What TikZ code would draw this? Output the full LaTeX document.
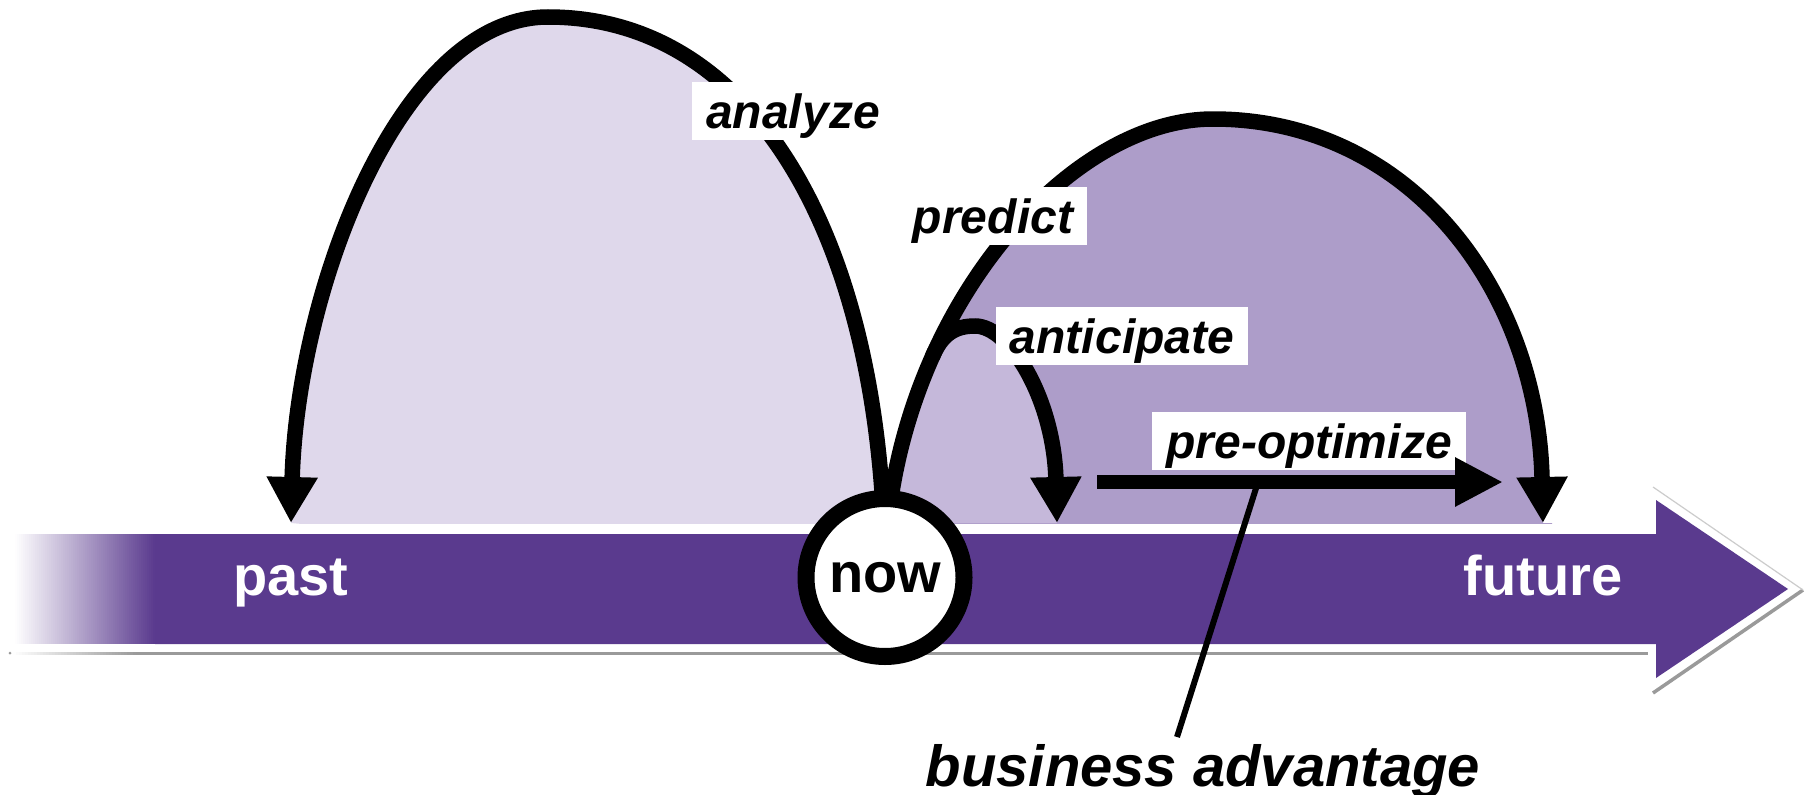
\documentclass[tikz,border=0pt]{standalone}
\usepackage{fontspec}
\setmainfont{Liberation Sans}
\usetikzlibrary{arrows.meta}
\definecolor{bandpurple}{HTML}{5A3A8E}
\definecolor{lavlight}{HTML}{DFD8EB}
\definecolor{lavmid}{HTML}{C5B8DA}
\definecolor{lavdark}{HTML}{AD9DC9}
\definecolor{shadowgray}{HTML}{9A9A9A}
\begin{document}
\begin{tikzpicture}[x=1pt,y=-1pt,
  arcline/.style={line width=15.5pt, draw=black, -{Triangle[length=46pt,width=48pt]}},
  lbl/.style={fill=white, font=\fontsize{48}{56}\selectfont\bfseries\itshape, inner xsep=14pt, inner ysep=4pt, text height=42pt, text depth=8pt, anchor=base},
  axislbl/.style={font=\fontsize{56}{64}\selectfont\bfseries, anchor=base, inner sep=0pt},
]
\useasboundingbox (0,0) rectangle (1810,795);
\fill[white] (0,0) rectangle (1810,795);

\coordinate (N) at (885,577.5);
\coordinate (Atop) at (548,17);
\coordinate (Atip) at (291,523);
\coordinate (Ptop) at (1213,119);
\coordinate (Ptip) at (1543,523);
\coordinate (Cstart) at (932.3,356.8);
\coordinate (Ctop) at (975,326);
\coordinate (Ctip) at (1057,523);

% fills
\begin{scope}
  \clip (0,0) rectangle (1810,523);
  \fill[lavlight] (N) .. controls (885,250) and (760,17) .. (Atop) .. controls (400,17) and (297,290) .. (Atip) -- cycle;
  \fill[lavdark] (N) .. controls (885,330) and (1060,119) .. (Ptop) .. controls (1410,119) and (1538,290) .. (Ptip) -- (1552,523) -- (1552,530) -- cycle;
  \clip (N) .. controls (885,330) and (1060,119) .. (Ptop) .. controls (1410,119) and (1538,290) .. (Ptip) -- cycle;
  \fill[lavmid] (Cstart) .. controls (942,334) and (955,326) .. (Ctop) .. controls (1010,326) and (1054,400) .. (Ctip) -- (860,523) -- (860,340) -- cycle;
\end{scope}

% band shadow
\fill[shadowgray] (10,653) circle[radius=1.5pt];
\fill[shadowgray] (135,651.5) rectangle (1648,654.5);
\foreach \i in {0,...,40} {
  \pgfmathsetmacro\p{100*(\i+0.5)/41}
  \fill[shadowgray!\p!white] ({13+3*\i},651.5) rectangle ({13+3*\i+3.4},654.5);
}
\draw[shadowgray, line width=3.5pt] (1803,590) -- (1653,693);
\draw[gray!40, line width=1.2pt] (1653,487) -- (1803,590);

% band
\fill[bandpurple] (155,534) -- (1656,534) -- (1656,500) -- (1788,589) -- (1656,678) -- (1656,644) -- (155,644) -- cycle;
\foreach \i in {0,...,69} {
  \pgfmathsetmacro\p{100*(\i+0.5)/70}
  \fill[bandpurple!\p!white] ({15+2*\i},534) rectangle ({15+2*\i+2.4},644);
}

% arcs
\draw[arcline] (N) .. controls (885,250) and (760,17) .. (Atop) .. controls (400,17) and (297,290) .. (Atip);
\draw[arcline] (N) .. controls (885,330) and (1060,119) .. (Ptop) .. controls (1410,119) and (1538,290) .. (Ptip);
\draw[arcline] (Cstart) .. controls (942,334) and (955,326) .. (Ctop) .. controls (1010,326) and (1054,400) .. (Ctip);

% labels
\node[lbl] (analyze) at (793,128) {analyze};
\node[lbl] (predict) at (993,233) {predict};
\node[lbl] (anticipate) at (1122,353) {anticipate};
\node[lbl] (preopt) at (1309,458) {pre-optimize};

% pre-optimize arrow and business advantage
\coordinate (Ostart) at (1097,482);
\coordinate (Otip) at (1503,482);
\coordinate (Bstem) at (1258,482);
\coordinate (Bend) at (1177,737);
\draw[line width=6pt] (Bstem) -- (Bend);
\draw[line width=14pt, -{Triangle[length=48pt,width=46pt]}] (Ostart) -- (Otip);
\node[font=\fontsize{58}{66}\selectfont\bfseries\itshape, anchor=base, inner sep=0pt] (biz) at (1203,786) {business advantage};

% now circle
\node[circle, draw=black, line width=17pt, fill=white, minimum size=158pt, inner sep=0pt, font=\fontsize{56}{64}\selectfont\bfseries] (now) at (N) {now};

% axis labels
\node[axislbl, text=white] (past) at (291,595) {past};
\node[axislbl, text=white] (future) at (1543,595) {future};
\end{tikzpicture}
\end{document}
